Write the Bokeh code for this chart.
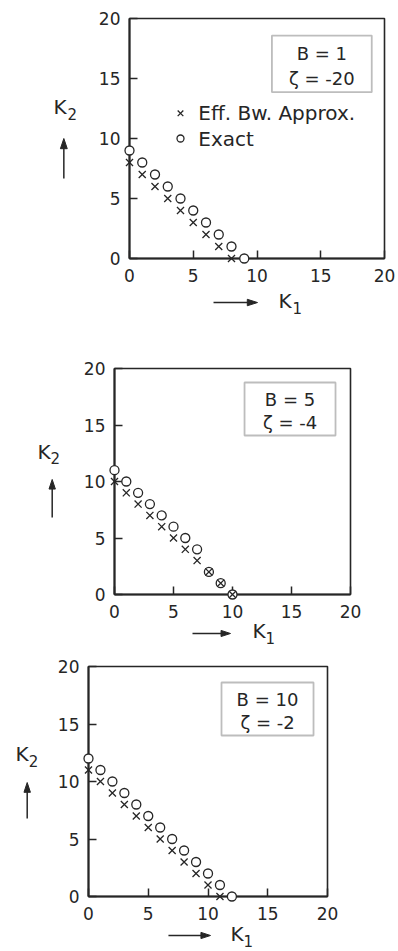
import math
from bokeh.plotting import figure
from bokeh.models import Range1d, FixedTicker, Label, BoxAnnotation
from bokeh.core.properties import value
from bokeh.embed import file_html
from bokeh.resources import INLINE

# ---- data: admissible (K1, K2) boundary points ----
ticks = [0, 5, 10, 15, 20]

b1_exact_k1 = [0, 1, 2, 3, 4, 5, 6, 7, 8, 9]
b1_exact_k2 = [9, 8, 7, 6, 5, 4, 3, 2, 1, 0]
b1_approx_k1 = [0, 1, 2, 3, 4, 5, 6, 7, 8]
b1_approx_k2 = [8, 7, 6, 5, 4, 3, 2, 1, 0]

b5_exact_k1 = [0, 1, 2, 3, 4, 5, 6, 7, 8, 9, 10]
b5_exact_k2 = [11, 10, 9, 8, 7, 6, 5, 4, 2, 1, 0]
b5_approx_k1 = [0, 1, 2, 3, 4, 5, 6, 7, 8, 9, 10]
b5_approx_k2 = [10, 9, 8, 7, 6, 5, 4, 3, 2, 1, 0]

b10_exact_k1 = [0, 1, 2, 3, 4, 5, 6, 7, 8, 9, 10, 11, 12]
b10_exact_k2 = [12, 11, 10, 9, 8, 7, 6, 5, 4, 3, 2, 1, 0]
b10_approx_k1 = [0, 1, 2, 3, 4, 5, 6, 7, 8, 9, 10, 11]
b10_approx_k2 = [11, 10, 9, 8, 7, 6, 5, 4, 3, 2, 1, 0]

panel_titles = [("B = 1", "ζ = -20"), ("B = 5", "ζ = -4"), ("B = 10", "ζ = -2")]
series_names = ["Eff. Bw. Approx.", "Exact"]

INK = "#262626"
FONT = "DejaVu Sans"


def caption(p, x, y, main, sub, dx, dy):
    """Axis caption such as K with a lowered index, drawn as text glyphs."""
    p.text([x], [y], text=[main], text_font=value(FONT), text_font_size="20px",
           text_color=INK, text_baseline="alphabetic", level="overlay")
    p.text([x + dx], [y + dy], text=[sub], text_font=value(FONT),
           text_font_size="15px", text_color=INK, text_baseline="alphabetic",
           level="overlay")


def direction_arrow(p, x0, y0, x1, y1, head, half_w):
    """Straight arrow from (x0, y0) to the tip (x1, y1) with a filled head."""
    length = math.hypot(x1 - x0, y1 - y0)
    ux, uy = (x1 - x0) / length, (y1 - y0) / length
    nx, ny = -uy, ux
    p.segment([x0], [y0], [x1 - ux * head * 0.6], [y1 - uy * head * 0.6],
              line_color=INK, line_width=1.5, level="overlay")
    bx, by = x1 - ux * head, y1 - uy * head
    p.patch([x1, bx + nx * half_w, bx - nx * half_w],
            [y1, by + ny * half_w, by - ny * half_w],
            fill_color=INK, line_color=INK, line_width=1, level="overlay")


def make_panel(exact, approx, titles, height, borders, box, cap, show_key):
    left, right, top, bottom = borders
    p = figure(width=398, height=height, output_backend="svg",
               toolbar_location=None, x_range=Range1d(0, 20),
               y_range=Range1d(0, 20),
               min_border_left=left, min_border_right=right,
               min_border_top=top, min_border_bottom=bottom)
    p.grid.visible = False
    p.background_fill_color = "white"
    p.border_fill_color = "white"
    p.outline_line_color = INK
    p.outline_line_width = 1.6

    for ax in (p.xaxis[0], p.yaxis[0]):
        ax.ticker = FixedTicker(ticks=ticks)
        ax.axis_line_color = INK
        ax.axis_line_width = 2
        ax.major_tick_in = 8
        ax.major_tick_out = 0
        ax.major_tick_line_color = INK
        ax.major_tick_line_width = 1.5
        ax.minor_tick_line_color = None
        ax.major_label_text_font = FONT
        ax.major_label_text_font_size = "17px"
        ax.major_label_text_color = INK
    p.xaxis.major_label_standoff = 10
    p.yaxis.major_label_standoff = 9

    p.scatter(exact[0], exact[1], marker="circle", size=9,
              fill_color="white", line_color=INK, line_width=1.3,
              level="overlay")
    p.scatter(approx[0], approx[1], marker="x", size=10,
              line_color=INK, line_width=1.3, level="overlay")

    # parameter box
    bx0, bx1, by0, by1 = box
    p.add_layout(BoxAnnotation(left=bx0, right=bx1, bottom=by0, top=by1,
                               fill_alpha=0, line_color=INK, line_width=1.8))
    cx = (bx0 + bx1) / 2
    p.add_layout(Label(x=cx, y=by0 + (by1 - by0) * 0.68, text=titles[0],
                       text_align="center", text_baseline="middle",
                       text_font=FONT, text_font_size="18px", text_color=INK))
    p.add_layout(Label(x=cx, y=by0 + (by1 - by0) * 0.25, text=titles[1],
                       text_align="center", text_baseline="middle",
                       text_font=FONT, text_font_size="18px", text_color=INK))

    # axis captions with direction arrows
    (k2x, k2y), (ax_x, ay0, ay1), (ay, ax0, ax1), (k1x, k1y) = cap
    caption(p, k2x, k2y, "K", "2", 1.1, -0.6)
    direction_arrow(p, ax_x, ay0, ax_x, ay1, 0.85, 0.27)
    direction_arrow(p, ax0, ay, ax1, ay, 0.8, 0.27)
    caption(p, k1x, k1y, "K", "1", 1.1, -0.6)

    # symbol key
    if show_key:
        kx, ky_top, ky_bot = show_key
        p.scatter([kx], [ky_top], marker="x", size=8, line_color=INK,
                  line_width=1.3, level="overlay")
        p.scatter([kx], [ky_bot], marker="circle", size=7, fill_color="white",
                  line_color=INK, line_width=1.3, level="overlay")
        for yy, name in ((ky_top, series_names[0]), (ky_bot, series_names[1])):
            p.add_layout(Label(x=kx + 1.4, y=yy, text=name, text_align="left",
                               text_baseline="middle", text_font=FONT,
                               text_font_size="20px", text_color=INK))
    return p


p1 = make_panel((b1_exact_k1, b1_exact_k2), (b1_approx_k1, b1_approx_k2),
                panel_titles[0], 330, (129, 14, 18, 72),
                (11.17, 19.0, 13.86, 18.58),
                ((-5.96, 12.65), (-5.15, 6.67, 10.0), (-3.67, 6.59, 10.04), (11.69, -3.55)),
                (4.0, 12.1, 10.0))
p2 = make_panel((b5_exact_k1, b5_exact_k2), (b5_approx_k1, b5_approx_k2),
                panel_titles[1], 322, (114, 48, 38, 58),
                (11.02, 18.73, 14.07, 18.76),
                ((-6.53, 12.65), (-5.28, 6.81, 10.18), (-3.45, 6.61, 9.83), (11.69, -3.25)),
                None)
p3 = make_panel((b10_exact_k1, b10_exact_k2), (b10_approx_k1, b10_approx_k2),
                panel_titles[2], 299, (88, 71, 14, 55),
                (11.13, 18.83, 14.0, 18.61),
                ((-6.11, 12.37), (-5.13, 6.78, 9.91), (-3.39, 6.69, 10.21), (11.88, -3.3)),
                None)

open("out.html", "w").write(file_html([p1, p2, p3], INLINE))
